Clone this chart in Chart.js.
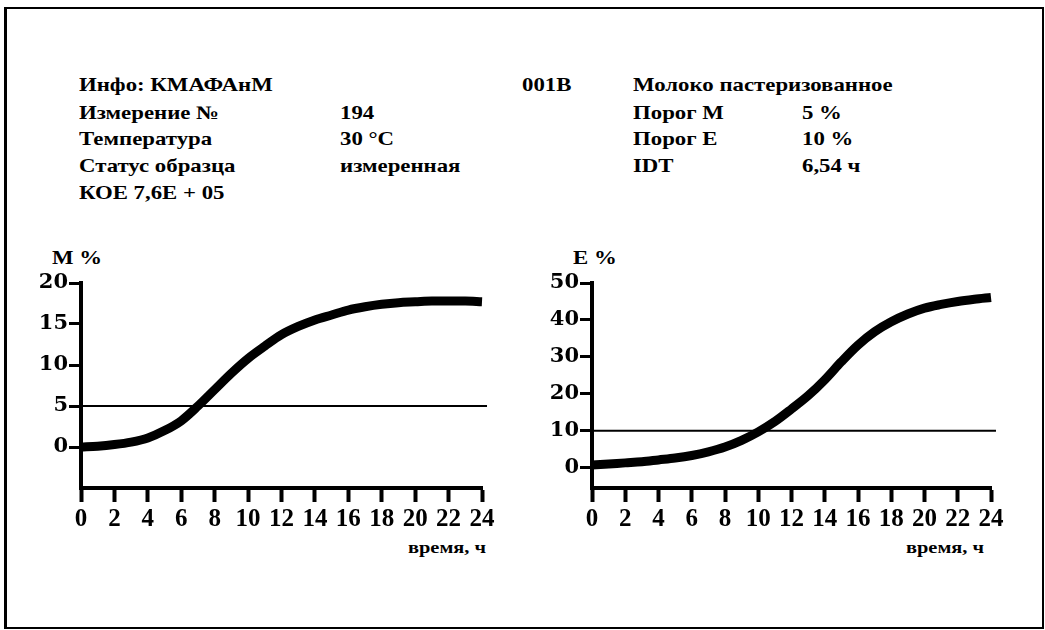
<!DOCTYPE html>
<html>
<head>
<meta charset="utf-8">
<script src="https://cdn.jsdelivr.net/npm/chart.js@4"></script>
<style>
  body { margin: 0; background: #fff; }
  #page { position: relative; width: 1045px; height: 630px; overflow: hidden; }
  #frame { position: absolute; left: 4px; top: 7px; width: 1035px; height: 618px;
           border: 2px solid #000; border-left-width: 3px; }
  .t { position: absolute; font-family: "Liberation Serif", serif; font-weight: bold;
       font-size: 19px; color: #000; white-space: nowrap; transform-origin: 0 50%;
       transform: scaleX(1.2); line-height: 20px; }
  canvas { position: absolute; }
</style>
</head>
<body>
<div id="page">
  <div id="frame"></div>

  <div class="t" style="left:79px;top:75px">Инфо: КМАФАнМ</div>
  <div class="t" style="left:79px;top:103px">Измерение №</div>
  <div class="t" style="left:79px;top:129px">Температура</div>
  <div class="t" style="left:79px;top:156px">Статус образца</div>
  <div class="t" style="left:79px;top:183px">КОЕ 7,6Е + 05</div>

  <div class="t" style="left:340px;top:103px">194</div>
  <div class="t" style="left:340px;top:129px">30 °C</div>
  <div class="t" style="left:340px;top:156px">измеренная</div>

  <div class="t" style="left:522px;top:75px">001B</div>
  <div class="t" style="left:633px;top:75px">Молоко пастеризованное</div>
  <div class="t" style="left:633px;top:103px">Порог М</div>
  <div class="t" style="left:633px;top:129px">Порог Е</div>
  <div class="t" style="left:633px;top:156px">IDT</div>
  <div class="t" style="left:802px;top:103px">5 %</div>
  <div class="t" style="left:802px;top:129px">10 %</div>
  <div class="t" style="left:802px;top:156px">6,54 ч</div>

  <div class="t" style="left:52px;top:248px">M %</div>
  <div class="t" style="left:573px;top:248px">E %</div>
  <div class="t" style="left:408px;top:538px;font-size:17px">время, ч</div>
  <div class="t" style="left:906px;top:538px;font-size:17px">время, ч</div>

  <canvas id="chartM" width="520" height="300" style="left:0;top:260px"></canvas>
  <canvas id="chartE" width="520" height="300" style="left:520px;top:260px"></canvas>
</div>

<script>
// time axis, hours
const hours = [0, 1, 2, 3, 4, 5, 6, 7, 8, 9, 10, 11, 12, 13, 14, 15, 16, 17, 18, 19, 20, 21, 22, 23, 24];
const hourTicks = [0, 2, 4, 6, 8, 10, 12, 14, 16, 18, 20, 22, 24];
const thresholdEnd = 24.3;

// M % curve and threshold
const mValues = [0, 0.1, 0.3, 0.6, 1.1, 2.0, 3.2, 5.0, 7.0, 9.0, 10.8, 12.3, 13.7, 14.7, 15.5,
                 16.1, 16.7, 17.1, 17.4, 17.6, 17.7, 17.8, 17.8, 17.8, 17.7];
const mThreshold = 5;
const mTicks = [0, 5, 10, 15, 20];

// E % curve and threshold
const eValues = [0.7, 1.0, 1.3, 1.6, 2.1, 2.6, 3.3, 4.3, 5.6, 7.4, 9.7, 12.5, 15.9, 19.5, 23.8,
                 28.7, 33.2, 36.8, 39.5, 41.6, 43.2, 44.2, 45.0, 45.6, 46.1];
const eThreshold = 10;
const eTicks = [0, 10, 20, 30, 40, 50];

function makeChart(id, values, threshold, yTicks, yMin, yMax, yWidth, padRight) {
    const curve = hours.map((h, i) => ({ x: h, y: values[i] }));
    const line = [{ x: 0, y: threshold }, { x: thresholdEnd, y: threshold }];

    return new Chart(document.getElementById(id), {
        type: 'line',
        data: {
            datasets: [{
                data: curve,
                borderColor: '#000',
                borderWidth: 9,
                borderCapStyle: 'butt',
                cubicInterpolationMode: 'monotone',
                pointRadius: 0,
                clip: false
            }, {
                data: line,
                borderColor: '#000',
                borderWidth: 2,
                pointRadius: 0,
                clip: false
            }]
        },
        options: {
            responsive: false,
            animation: false,
            events: [],
            layout: { padding: { top: 23, right: padRight, left: 0, bottom: 0 } },
            plugins: { legend: { display: false }, tooltip: { enabled: false } },
            scales: {
                x: {
                    type: 'linear',
                    min: 0,
                    max: 24,
                    afterBuildTicks: axis => { axis.ticks = hourTicks.map(v => ({ value: v })); },
                    afterFit: axis => { axis.height = 72; },
                    border: { display: true, color: '#000', width: 4 },
                    grid: { drawOnChartArea: false, drawTicks: true, tickLength: 14, tickWidth: 4, tickColor: '#000' },
                    ticks: {
                        color: '#000',
                        padding: 3,
                        maxRotation: 0,
                        autoSkip: false,
                        font: { family: 'Liberation Serif', weight: 'bold', size: 25 }
                    }
                },
                y: {
                    min: yMin,
                    max: yMax,
                    afterBuildTicks: axis => { axis.ticks = yTicks.map(v => ({ value: v })); },
                    afterFit: axis => { axis.width = yWidth; },
                    border: { display: true, color: '#000', width: 4 },
                    grid: { drawOnChartArea: false, drawTicks: true, tickLength: 12, tickWidth: 3, tickColor: '#000' },
                    ticks: {
                        color: '#000',
                        padding: 1,
                        font: { family: 'DejaVu Serif', weight: 'bold', size: 21 }
                    }
                }
            }
        }
    });
}

makeChart('chartM', mValues, mThreshold, mTicks, -5, 20, 81, 38);
makeChart('chartE', eValues, eThreshold, eTicks, -5.5, 50, 72, 49);
</script>
</body>
</html>
